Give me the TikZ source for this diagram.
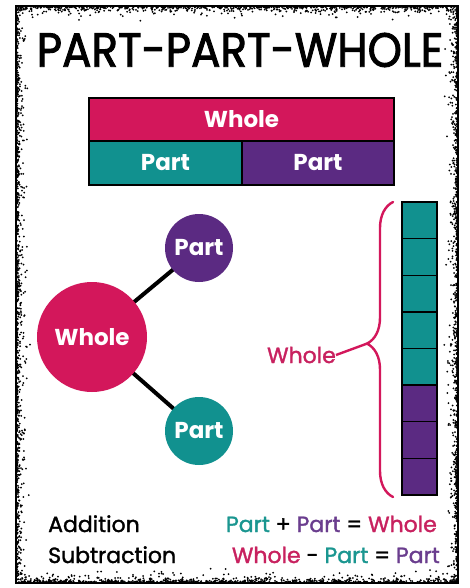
\documentclass[tikz,border=0pt]{standalone}
\usepackage{fontspec}
\setmainfont{Poppins}
\newfontfamily\titlefont{Poppins}[FakeBold=2]
\newfontfamily\eqfont{Poppins}[FakeBold=1.5]
\usetikzlibrary{decorations.pathreplacing,calc,backgrounds}
\pgfdeclarelayer{paper}
\pgfsetlayers{paper,background,main}
\definecolor{pwmag}{HTML}{D3175B}
\definecolor{pwteal}{HTML}{11918F}
\definecolor{pwpurp}{HTML}{5B2A82}
\definecolor{txmag}{HTML}{C8215F}
\definecolor{txteal}{HTML}{1A9690}
\definecolor{txpurp}{HTML}{6A3D8E}
\tikzset{
  barcell/.style={draw=black, line width=1.4pt, text=white, font=\fontsize{23}{23}\selectfont\bfseries, inner sep=0pt, outer sep=0pt},
  bubble/.style={circle, text=white, font=\fontsize{23}{23}\selectfont\bfseries, inner sep=0pt},
  cube/.style={draw=black, line width=1.4pt, minimum width=35pt, minimum height=36.6pt, inner sep=0pt, outer sep=0pt},
  eqtext/.style={font=\eqfont\fontsize{22}{22}\selectfont, inner sep=0pt},
  link/.style={line width=4pt, black},
}
\begin{document}
\begin{tikzpicture}[x=1pt,y=-1pt]
\useasboundingbox (0,0) rectangle (469,588);
\begin{pgfonlayer}{paper}
\fill[white] (0,0) rectangle (469,588);
\end{pgfonlayer}

% stippled frame
\pgfmathsetseed{11}
\foreach \i in {1,...,650}{
  \pgfmathsetmacro\px{16+442*rnd}
  \pgfmathsetmacro\d{1+15*rnd*rnd*rnd}
  \fill (\px,6+\d) circle (1pt);
  \pgfmathsetmacro\qx{16+442*rnd}
  \pgfmathsetmacro\e{1+15*rnd*rnd*rnd}
  \fill (\qx,583-\e) circle (1pt);
}
\foreach \i in {1,...,800}{
  \pgfmathsetmacro\py{6+577*rnd}
  \pgfmathsetmacro\d{1+15*rnd*rnd*rnd}
  \fill (16+\d,\py) circle (1pt);
  \pgfmathsetmacro\qy{6+577*rnd}
  \pgfmathsetmacro\e{1+15*rnd*rnd*rnd}
  \fill (458-\e,\qy) circle (1pt);
}
\draw[line width=1.6pt] (16,6) rectangle (458,583);

% title
\node[font=\titlefont\fontsize{48}{48}\selectfont, inner sep=0pt] (title) at (240,50) {\scalebox{0.91}[1]{PART-PART-WHOLE}};

% bar model
\node[barcell, fill=pwmag, minimum width=305pt, minimum height=43pt, anchor=north west] (barwhole) at (89,98) {Whole};
\node[barcell, fill=pwteal, minimum width=153pt, minimum height=44pt, anchor=north west] (barp1) at (89,141) {Part};
\node[barcell, fill=pwpurp, minimum width=152pt, minimum height=44pt, anchor=north west] (barp2) at (242,141) {Part};

% part-part-whole circles
\node[bubble, fill=pwmag, minimum size=110pt] (cwhole) at (92,337) {Whole};
\node[bubble, fill=pwpurp, minimum size=68pt] (cpart1) at (199,248) {Part};
\node[bubble, fill=pwteal, minimum size=68pt] (cpart2) at (199,431) {Part};
\begin{scope}[on background layer]
\draw[link] (cwhole.center) -- (cpart1.center);
\draw[link] (cwhole.center) -- (cpart2.center);
\end{scope}

% column of cubes
\foreach \k in {1,...,5}{
  \node[cube, fill=pwteal, anchor=north west] (sq\k) at (402,{202+36.6*(\k-1)}) {};
}
\foreach \k in {6,...,8}{
  \node[cube, fill=pwpurp, anchor=north west] (sq\k) at (402,{202+36.6*(\k-1)}) {};
}

% brace with label
\coordinate (btop) at (393,202);
\coordinate (bbot) at (393,497);
\draw[pwmag, line width=2.4pt, line cap=round, decorate,
      decoration={brace, amplitude=26pt, aspect=0.52}] (bbot) -- (btop)
      coordinate[pos=0.52, xshift=-26pt] (btip);
\node[font=\eqfont\fontsize{22}{22}\selectfont, text=txmag, inner sep=0pt, anchor=east] (wlabel) at (336,355) {Whole};
\draw[pwmag, line width=2.4pt] (wlabel.east) -- (btip);

% equations
\node[eqtext, anchor=base west] (add) at (48,532) {Addition};
\node[eqtext, anchor=base east] (addeq) at (437,532) {\textcolor{txteal}{Part} + \textcolor{txpurp}{Part} = \textcolor{txmag}{Whole}};
\node[eqtext, anchor=base west] (sub) at (48,563) {Subtraction};
\node[eqtext, anchor=base east] (subeq) at (440,563) {\textcolor{txmag}{Whole} - \textcolor{txteal}{Part} = \textcolor{txpurp}{Part}};
\end{tikzpicture}
\end{document}
